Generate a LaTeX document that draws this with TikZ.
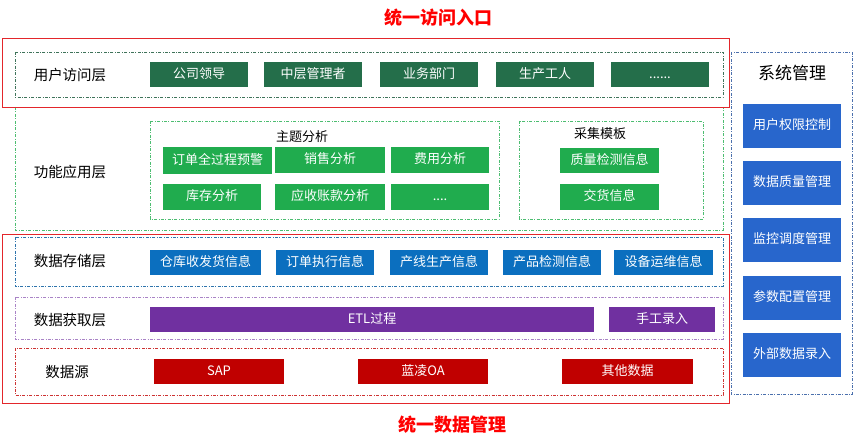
\documentclass[tikz,border=0pt]{standalone}
\usepackage{fontspec}
\setmainfont{Noto Sans CJK SC}
\definecolor{yhgreen}{HTML}{246E4A}
\definecolor{gngreen}{HTML}{20AC4E}
\definecolor{ccblue}{HTML}{0B6FBF}
\definecolor{xtblue}{HTML}{2866CC}
\definecolor{hqpurple}{HTML}{7030A0}
\definecolor{sjred}{HTML}{C00000}
\definecolor{kred}{HTML}{E3262B}
\tikzset{
  box/.style={inner sep=0pt, text=white, font=\fontsize{13}{15}\selectfont, text height=0.86em, text depth=0.14em, minimum height=25pt},
  yhbox/.style={box, fill=yhgreen, minimum width=98pt},
  gnbox/.style={box, fill=gngreen, minimum height=26pt},
  ccbox/.style={box, fill=ccblue},
  hqbox/.style={box, fill=hqpurple},
  sjbox/.style={box, fill=sjred},
  xtbox/.style={box, fill=xtblue, minimum width=98pt, minimum height=44pt},
  layer/.style={font=\fontsize{14.5}{16}\selectfont},
  frame/.style={line width=0.7pt, dash pattern=on 3pt off 1.5pt on 0.8pt off 1.5pt},
  redframe/.style={draw=kred, line width=0.9pt},
  title/.style={text=red, font=\bfseries\fontsize{18}{20}\selectfont}
}
\begin{document}
\begin{tikzpicture}[x=1pt, y=-1pt]
  \useasboundingbox (0,0) rectangle (854,446);

  % 各层虚线框
  \draw[frame, draw=gngreen!80] (15,107) rectangle (723,230);
  \draw[frame, draw=gngreen!80] (150,121) rectangle (499,219);
  \draw[frame, draw=gngreen!80] (519,121) rectangle (703,219);
  \draw[frame, draw=yhgreen!70!gray] (15,52) rectangle (723,97);
  \draw[frame, draw=ccblue!70!gray] (15,237) rectangle (723,286);
  \draw[frame, draw=hqpurple!60] (15,297) rectangle (723,339);
  \draw[frame, draw=sjred!80] (15,348) rectangle (723,395);
  \draw[frame, draw=xtblue!60!gray] (731,52) rectangle (852,394);

  % 统一入口与统一管理
  \draw[redframe] (2,38) rectangle (729,107);
  \draw[redframe] (2,234) rectangle (729,403);
  \node[title] (rukou) at (438,18) {统一访问入口};
  \node[title] (guanli) at (452,425) {统一数据管理};

  % 用户访问层
  \node[layer] (yh) at (70,75) {用户访问层};
  \node[yhbox] (yh1) at (199,74.5) {公司领导};
  \node[yhbox] (yh2) at (313,74.5) {中层管理者};
  \node[yhbox] (yh3) at (429,74.5) {业务部门};
  \node[yhbox] (yh4) at (545,74.5) {生产工人};
  \node[yhbox] (yh5) at (660,74.5) {......};

  % 功能应用层
  \node[layer] (gn) at (70,172) {功能应用层};
  \node[font=\fontsize{13}{15}\selectfont] (zt) at (302,137) {主题分析};
  \node[gnbox, minimum width=109pt, minimum height=27pt] (zt1) at (217.5,160.5) {订单全过程预警};
  \node[gnbox, minimum width=110pt] (zt2) at (330,160) {销售分析};
  \node[gnbox, minimum width=98pt] (zt3) at (440,160) {费用分析};
  \node[gnbox, minimum width=98pt] (zt4) at (212,197) {库存分析};
  \node[gnbox, minimum width=110pt] (zt5) at (330,197) {应收账款分析};
  \node[gnbox, minimum width=98pt] (zt6) at (440,197) {....};
  \node[font=\fontsize{13}{15}\selectfont] (cj) at (600,134) {采集模板};
  \node[gnbox, minimum width=99pt, minimum height=25pt] (cj1) at (609.5,160.5) {质量检测信息};
  \node[gnbox, minimum width=99pt] (cj2) at (609.5,197) {交货信息};

  % 数据存储层
  \node[layer] (cc) at (70,261) {数据存储层};
  \node[ccbox, minimum width=111pt] (cc1) at (205.5,262.5) {仓库收发货信息};
  \node[ccbox, minimum width=98pt] (cc2) at (325,262.5) {订单执行信息};
  \node[ccbox, minimum width=98pt] (cc3) at (439,262.5) {产线生产信息};
  \node[ccbox, minimum width=98pt] (cc4) at (552,262.5) {产品检测信息};
  \node[ccbox, minimum width=99pt] (cc5) at (663.5,262.5) {设备运维信息};

  % 数据获取层
  \node[layer] (hq) at (70,320) {数据获取层};
  \node[hqbox, minimum width=444pt] (hq1) at (372,319.5) {ETL过程};
  \node[hqbox, minimum width=106pt] (hq2) at (662,319.5) {手工录入};

  % 数据源
  \node[layer] (sj) at (67,372) {数据源};
  \node[sjbox, minimum width=130pt] (sj1) at (219,371.5) {SAP};
  \node[sjbox, minimum width=130pt] (sj2) at (423,371.5) {蓝凌OA};
  \node[sjbox, minimum width=131pt] (sj3) at (627.5,371.5) {其他数据};

  % 系统管理
  \node[font=\fontsize{17}{19}\selectfont] (xt) at (792,73) {系统管理};
  \node[xtbox] (xt1) at (792,126) {用户权限控制};
  \node[xtbox] (xt2) at (792,183) {数据质量管理};
  \node[xtbox] (xt3) at (792,240) {监控调度管理};
  \node[xtbox] (xt4) at (792,298) {参数配置管理};
  \node[xtbox] (xt5) at (792,355) {外部数据录入};
\end{tikzpicture}
\end{document}
